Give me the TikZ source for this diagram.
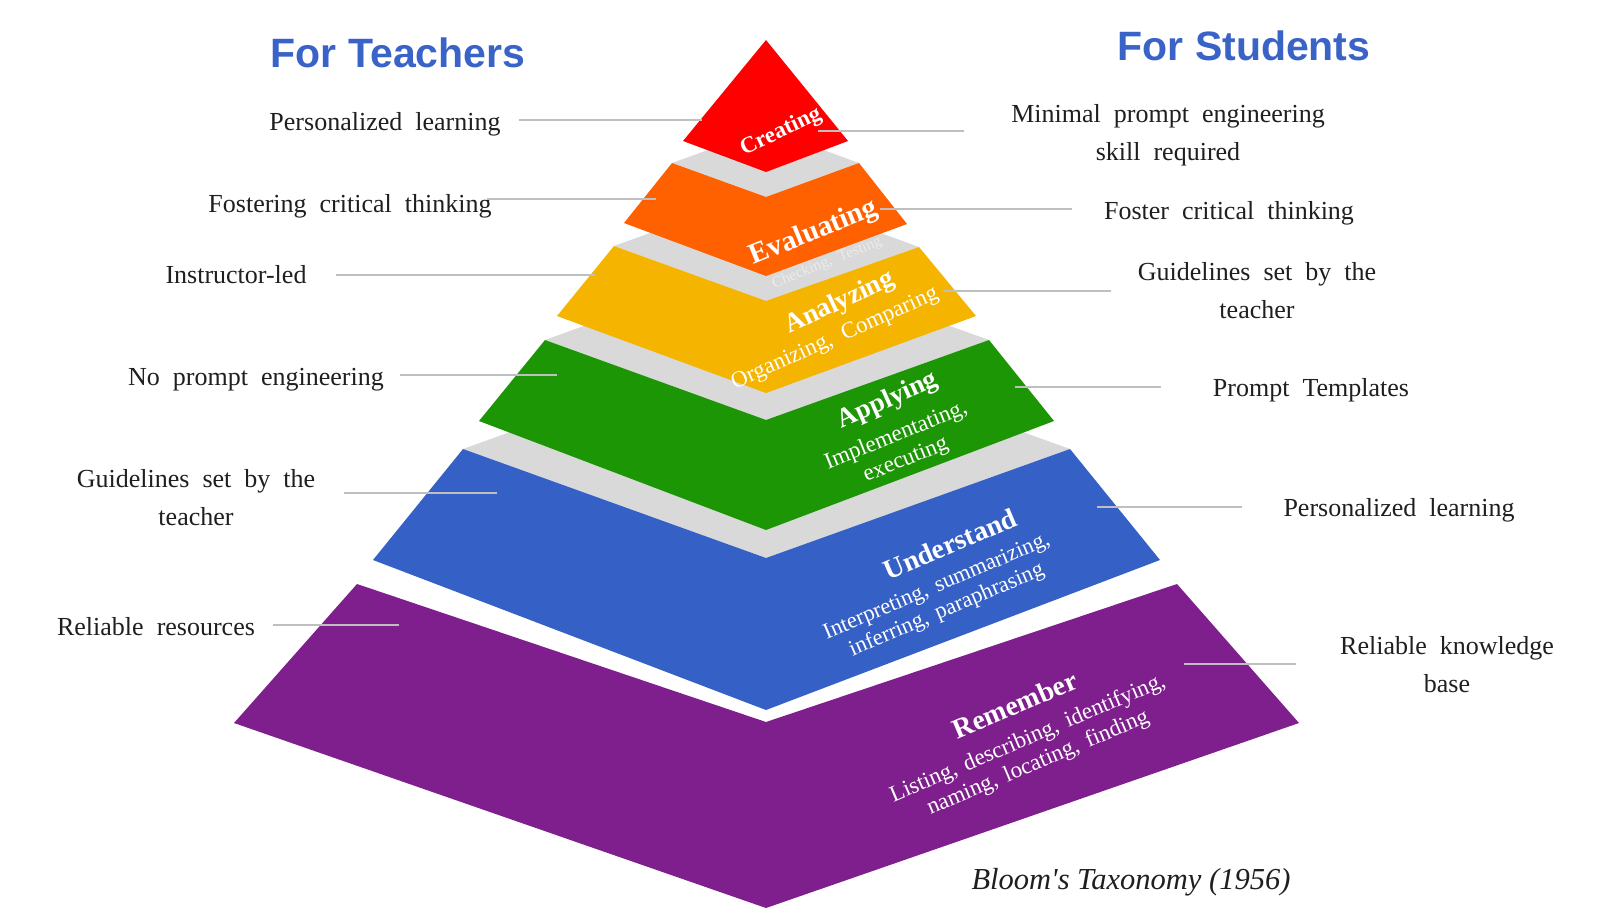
\documentclass[tikz,border=0pt]{standalone}
\usepackage{fontspec}
\setmainfont{Liberation Serif}
\newfontfamily\titlesans{Liberation Sans}
\newfontfamily\capfont[Ligatures=TeXOff]{Liberation Serif}
\definecolor{cRed}{HTML}{FF0000}
\definecolor{cOrange}{HTML}{FF6000}
\definecolor{cYellow}{HTML}{F4B400}
\definecolor{cGreen}{HTML}{1D9606}
\definecolor{cBlue}{HTML}{3560C5}
\definecolor{cPurple}{HTML}{7F1E8D}
\definecolor{cGray}{HTML}{D9D9D9}
\definecolor{cLead}{HTML}{BFBFBF}
\definecolor{cTitle}{HTML}{3A63C8}
\definecolor{cText}{HTML}{1F1F1F}
\definecolor{cFaint}{HTML}{ECECEC}
\newcommand\widesp{\spaceskip=0.5em plus 0.1em minus 0.05em\relax}
\newcommand\midsp{\spaceskip=0.38em plus 0.1em minus 0.05em\relax}
\begin{document}
\begin{tikzpicture}[x=1pt,y=-1pt,
  lbl/.style={font=\fontsize{26}{37.5}\selectfont\widesp, text=cText, align=center, inner sep=0pt, anchor=base},
  ttl/.style={font=\titlesans\bfseries\fontsize{41}{48}\selectfont, text=cTitle, inner sep=0pt, anchor=base},
  lead/.style={draw=cLead, line width=1.8pt},
  lname/.style={font=\bfseries\fontsize{27}{30}\selectfont, text=white, inner sep=0pt},
  lsub/.style={font=\fontsize{23}{26}\selectfont\midsp, text=white, inner sep=0pt, align=center}]
\fill[white] (0,0) rectangle (1600,918);
\useasboundingbox (0,0) rectangle (1600,918);

% ---- pyramid layers (bottom to top)
\fill[cPurple] (357,584) -- (766,722) -- (1177,584) -- (1299,723) -- (766,908) -- (234,723) -- cycle;
\fill[cGray] (463,449) -- (766,340) -- (1070,449) -- (766,558) -- cycle;
\fill[cBlue] (463,449) -- (766,558) -- (1070,449) -- (1160,560) -- (766,710) -- (373,560) -- cycle;
\fill[cGray] (545,340) -- (766,260) -- (989,340) -- (766,420) -- cycle;
\fill[cGreen] (545,340) -- (766,420) -- (989,340) -- (1054,421) -- (766,530) -- (479,421) -- cycle;
\fill[cGray] (614,246) -- (766,191) -- (919,247) -- (766,301) -- cycle;
\fill[cYellow] (614,246) -- (766,301) -- (919,247) -- (976,316) -- (766,393) -- (557,316) -- cycle;
\fill[cGray] (672,163) -- (766,129) -- (859,163) -- (766,197) -- cycle;
\fill[cOrange] (672,163) -- (766,197) -- (859,163) -- (907,224) -- (766,276) -- (624,223) -- cycle;
\fill[cRed] (766,40) -- (848,141) -- (766,172) -- (683,141) -- cycle;

% ---- layer texts
\node[lname, font=\bfseries\fontsize{23}{26}\selectfont, rotate=25] (creating) at (781,132) {Creating};
\node[lname, font=\bfseries\fontsize{29}{32}\selectfont, rotate=22] (evaluating) at (814,233) {Evaluating};
\node[lsub, font=\fontsize{15.5}{17}\selectfont\widesp, text=cFaint, rotate=22] (evalsub) at (827,263) {Checking, Testing};
\node[lname, rotate=25] (analyzing) at (840,303) {Analyzing};
\node[lsub, font=\fontsize{23}{26}\selectfont\widesp, rotate=24] (analsub) at (835,339) {Organizing, Comparing};
\node[lname, rotate=24] (applying) at (888,401) {Applying};
\node[lsub, rotate=22] (applsub) at (901,448) {Implementating,\\executing};
\node[lname, font=\bfseries\fontsize{28}{31}\selectfont, rotate=23] (understand) at (950,544) {Understand};
\node[lsub, font=\fontsize{22.5}{25.5}\selectfont\midsp, rotate=23] (undsub) at (942,599) {Interpreting, summarizing,\\inferring, paraphrasing};
\node[lname, font=\bfseries\fontsize{28}{31}\selectfont, rotate=23] (remember) at (1015,705) {Remember};
\node[lsub, rotate=23] (remsub) at (1033,751) {Listing, describing, identifying,\\naming, locating, finding};

% ---- titles
\node[ttl] (teachers) at (398,67) {For Teachers};
\node[ttl] (students) at (1244,60) {For Students};

% ---- left labels (anchor base = baseline of the last line)
\node[lbl] (t1) at (385,130) {Personalized learning};
\node[lbl] (t2) at (350,212) {Fostering critical thinking};
\node[lbl] (t3) at (236,283) {Instructor-led};
\node[lbl] (t4) at (256,385) {No prompt engineering};
\node[lbl] (t5) at (196,525) {Guidelines set by the\\teacher};
\node[lbl] (t6) at (156,635) {Reliable resources};

% ---- right labels
\node[lbl] (s1) at (1168,160) {Minimal prompt engineering\\skill required};
\node[lbl] (s2) at (1229,219) {Foster critical thinking};
\node[lbl] (s3) at (1257,318) {Guidelines set by the\\teacher};
\node[lbl] (s4) at (1311,396) {Prompt Templates};
\node[lbl] (s5) at (1399,516) {Personalized learning};
\node[lbl] (s6) at (1447,692) {Reliable knowledge\\base};

% ---- caption
\node[inner sep=0pt, anchor=base, text=cText, font=\capfont\itshape\fontsize{30.5}{34}\selectfont] (caption) at (1131,889) {Bloom's Taxonomy (1956)};

% ---- leader lines
\coordinate (l1a) at (519,120); \coordinate (l1b) at (702,120);
\coordinate (l2a) at (487,199); \coordinate (l2b) at (656,199);
\coordinate (l3a) at (336,275); \coordinate (l3b) at (595,275);
\coordinate (l4a) at (400,375); \coordinate (l4b) at (557,375);
\coordinate (l5a) at (344,493); \coordinate (l5b) at (497,493);
\coordinate (l6a) at (273,625); \coordinate (l6b) at (399,625);
\coordinate (r1a) at (818,131); \coordinate (r1b) at (964,131);
\coordinate (r2a) at (880,209); \coordinate (r2b) at (1072,209);
\coordinate (r3a) at (943,291); \coordinate (r3b) at (1111,291);
\coordinate (r4a) at (1015,387); \coordinate (r4b) at (1161,387);
\coordinate (r5a) at (1097,507); \coordinate (r5b) at (1242,507);
\coordinate (r6a) at (1184,664); \coordinate (r6b) at (1296,664);
\foreach \p in {l1,l2,l3,l4,l5,l6,r1,r2,r3,r4,r5,r6}
  \draw[lead] (\p a) -- (\p b);
\end{tikzpicture}
\end{document}
